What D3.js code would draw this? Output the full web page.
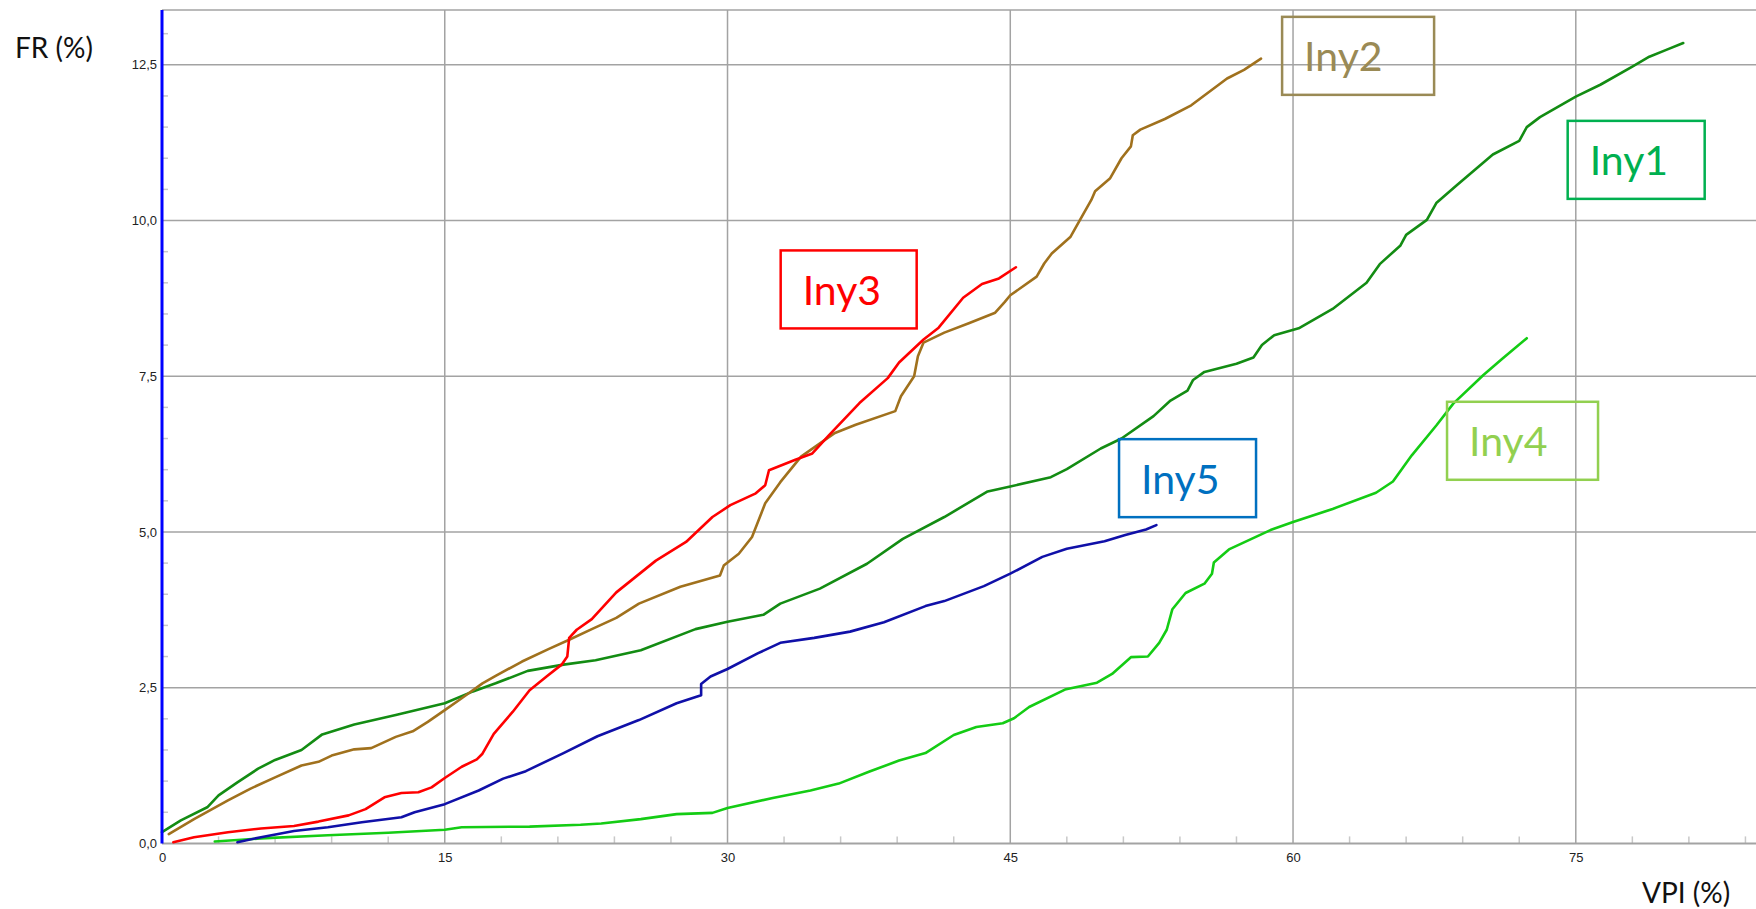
<!DOCTYPE html>
<html>
<head>
<meta charset="utf-8">
<script src="https://cdn.jsdelivr.net/npm/d3@7/dist/d3.min.js"></script>
<style>
  html, body { margin: 0; padding: 0; background: #ffffff; }
  svg { display: block; }
</style>
</head>
<body>
<svg id="chart" width="1756" height="909"></svg>
<script>
// ---------------- DATA ----------------
const seriesNames = ["Iny1", "Iny2", "Iny3", "Iny4", "Iny5"];

const iny1 = [[0,0.18],[1.0,0.37],[2.4,0.58],[3.0,0.77],[4.0,0.98],[5.1,1.2],[6.0,1.34],[7.4,1.5],[8.5,1.75],[10.2,1.91],[12.4,2.06],[15.0,2.25],[16.5,2.44],[17.7,2.57],[19.4,2.77],[21.3,2.87],[23.0,2.94],[25.4,3.1],[28.3,3.44],[30,3.56],[31.9,3.67],[32.8,3.85],[34.9,4.09],[37.4,4.49],[39.3,4.89],[41.5,5.24],[43.8,5.65],[45,5.73],[47.15,5.88],[48.0,6.01],[49.8,6.34],[50.9,6.5],[52.6,6.86],[53.5,7.11],[54.4,7.27],[54.7,7.44],[55.3,7.57],[57.0,7.7],[57.9,7.8],[58.35,8.0],[59.0,8.16],[60.3,8.27],[62.1,8.58],[63.9,9.0],[64.6,9.3],[65.7,9.6],[66.0,9.77],[67.1,10.01],[67.6,10.28],[68.7,10.57],[70.6,11.06],[72.0,11.28],[72.4,11.5],[73.1,11.66],[75.0,11.99],[76.3,12.18],[78.0,12.47],[78.9,12.63],[79.8,12.74],[80.7,12.85]];

const iny2 = [[0.36,0.15],[1.7,0.39],[3.5,0.69],[4.7,0.88],[6.0,1.06],[7.4,1.25],[8.3,1.31],[9.0,1.41],[10.2,1.51],[11.1,1.53],[12.4,1.71],[13.3,1.80],[14.1,1.95],[15.0,2.14],[15.9,2.33],[17.0,2.57],[17.7,2.69],[19.1,2.92],[20.5,3.12],[21.6,3.27],[22.8,3.44],[24.1,3.62],[25.3,3.85],[27.5,4.12],[29.6,4.30],[29.8,4.46],[30.6,4.65],[31.3,4.92],[32.0,5.46],[32.8,5.80],[33.9,6.21],[35.7,6.59],[36.8,6.72],[38.9,6.94],[39.2,7.18],[39.9,7.5],[40.1,7.82],[40.4,8.04],[41.5,8.2],[42.8,8.35],[44.2,8.52],[44.7,8.69],[45.0,8.80],[46.4,9.1],[46.8,9.31],[47.2,9.47],[48.2,9.74],[48.7,10.01],[49.3,10.33],[49.5,10.47],[50.3,10.68],[50.9,11.0],[51.4,11.19],[51.5,11.37],[51.9,11.46],[53.2,11.63],[54.6,11.85],[56.5,12.28],[57.4,12.42],[58.3,12.6]];

const iny3 = [[0.6,0.02],[1.7,0.10],[3.5,0.18],[5.25,0.24],[7.0,0.28],[8.3,0.35],[9.9,0.45],[10.8,0.55],[11.8,0.74],[12.7,0.81],[13.6,0.82],[14.3,0.9],[15.0,1.05],[15.9,1.23],[16.7,1.35],[17.0,1.44],[17.6,1.76],[18.6,2.11],[19.5,2.46],[20.4,2.68],[21.2,2.87],[21.5,3.0],[21.6,3.3],[22.0,3.43],[22.8,3.6],[24.1,4.03],[26.2,4.54],[27.8,4.84],[29.2,5.24],[30.15,5.43],[31.5,5.62],[32.0,5.75],[32.2,5.99],[33.6,6.16],[34.5,6.26],[35.4,6.56],[37.0,7.07],[38.5,7.47],[39.1,7.72],[40.4,8.09],[41.2,8.28],[42.5,8.76],[43.5,8.98],[44.4,9.07],[45.3,9.25]];

const iny4 = [[2.8,0.03],[5.25,0.08],[8.8,0.13],[12.0,0.17],[15.0,0.22],[15.9,0.26],[19.5,0.27],[22.2,0.30],[23.3,0.32],[25.4,0.39],[27.3,0.47],[29.2,0.49],[30,0.57],[32.4,0.73],[34.4,0.85],[35.9,0.96],[37.5,1.15],[39.1,1.33],[40.5,1.45],[42.0,1.74],[43.2,1.87],[44.6,1.93],[45.2,2.01],[46.0,2.19],[47.9,2.47],[49.6,2.58],[50.4,2.72],[51.4,2.99],[52.3,3.0],[52.9,3.22],[53.3,3.43],[53.6,3.76],[54.3,4.02],[55.3,4.17],[55.7,4.33],[55.8,4.51],[56.6,4.72],[58.8,5.03],[60.0,5.16],[62.1,5.37],[64.4,5.63],[65.3,5.81],[66.3,6.23],[67.6,6.71],[68.5,7.06],[70.1,7.52],[71.1,7.78],[72.4,8.11]];

const iny5 = [[4.0,0.02],[5.25,0.10],[7.0,0.20],[8.8,0.26],[10.6,0.34],[12.7,0.42],[13.4,0.5],[15.0,0.63],[16.8,0.85],[18.1,1.04],[19.3,1.16],[21.3,1.45],[23.1,1.72],[25.3,1.98],[27.3,2.25],[28.6,2.38],[28.6,2.56],[29.1,2.68],[30,2.80],[31.6,3.05],[32.8,3.22],[34.6,3.30],[36.5,3.40],[38.3,3.55],[40.5,3.81],[41.5,3.89],[43.6,4.13],[45.0,4.33],[46.7,4.6],[48.0,4.73],[50.0,4.85],[51.1,4.95],[52.2,5.04],[52.75,5.11]];

const xTickValues = [0, 15, 30, 45, 60, 75];
const yTickValues = [0, 2.5, 5, 7.5, 10, 12.5];
const xTitle = "VPI (%)";
const yTitle = "FR (%)";

// label box anchors (top-left corner, in data units)
const labelAnchorX = [74.57, 59.42, 32.82, 68.17, 50.77];
const labelAnchorY = [11.60, 13.27, 9.52, 7.09, 6.49];

// ---------------- STYLE / LAYOUT ----------------
const lineColors = ["#138c13", "#a0711d", "#ff0000", "#14cc14", "#1010a8"];
const boxColors = ["#00b050", "#9a8a55", "#ff0000", "#92d050", "#0070c0"];
const boxWidths = [137, 152, 136, 151, 137];
const boxHeight = 78;

const svg = d3.select("#chart");
const x = d3.scaleLinear().domain([0, 84.56]).range([162, 1756]);
const y = d3.scaleLinear().domain([0, 13.38]).range([843.4, 10]);

const gridColor = "#a3a3a3";
const minorColor = "#c8c8c8";

// horizontal gridlines + top border
const hLines = yTickValues.filter(v => v > 0).concat([13.38]);
svg.append("g").selectAll("line").data(hLines).join("line")
  .attr("x1", x(0)).attr("x2", x(84.56))
  .attr("y1", d => y(d)).attr("y2", d => y(d))
  .attr("stroke", gridColor).attr("stroke-width", 1.5);

// vertical gridlines
svg.append("g").selectAll("line").data(xTickValues.filter(v => v > 0)).join("line")
  .attr("x1", d => x(d)).attr("x2", d => x(d))
  .attr("y1", y(0)).attr("y2", y(13.38))
  .attr("stroke", gridColor).attr("stroke-width", 1.5);

// minor ticks x
const xMinor = d3.range(3, 85, 3).filter(v => v % 15 !== 0);
svg.append("g").selectAll("line").data(xMinor).join("line")
  .attr("x1", d => x(d)).attr("x2", d => x(d))
  .attr("y1", y(0)).attr("y2", y(0) - 7)
  .attr("stroke", minorColor).attr("stroke-width", 1.5);

// minor ticks y
const yMinor = d3.range(0.5, 13.4, 0.5).filter(v => Math.abs(v / 2.5 - Math.round(v / 2.5)) > 1e-6);
svg.append("g").selectAll("line").data(yMinor).join("line")
  .attr("x1", x(0)).attr("x2", x(0) + 6)
  .attr("y1", d => y(d)).attr("y2", d => y(d))
  .attr("stroke", minorColor).attr("stroke-width", 1.5);

// bottom axis line
svg.append("line")
  .attr("x1", x(0)).attr("x2", x(84.56))
  .attr("y1", y(0)).attr("y2", y(0))
  .attr("stroke", gridColor).attr("stroke-width", 2);

// series lines
const allSeries = [iny1, iny2, iny3, iny4, iny5];
const line = d3.line().x(d => x(d[0])).y(d => y(d[1]));
svg.append("g").selectAll("path").data(allSeries).join("path")
  .attr("d", d => line(d))
  .attr("fill", "none")
  .attr("stroke", (d, i) => lineColors[i])
  .attr("stroke-width", 2.6)
  .attr("stroke-linejoin", "round")
  .attr("stroke-linecap", "round");

// left axis (blue)
svg.append("line")
  .attr("x1", x(0)).attr("x2", x(0))
  .attr("y1", y(0)).attr("y2", y(13.38))
  .attr("stroke", "#0000ff").attr("stroke-width", 3);

// axes labels via d3 axes
const loc = d3.formatLocale({decimal: ",", thousands: ".", grouping: [3], currency: ["", ""]});
const fmtY = loc.format(".1f");

const xAxis = svg.append("g")
  .attr("transform", `translate(0,${y(0)})`)
  .call(d3.axisBottom(x).tickValues(xTickValues).tickSize(0).tickPadding(9).tickFormat(d3.format("d")));
xAxis.select(".domain").remove();
xAxis.selectAll("text").attr("font-family", "'Liberation Sans', Arial, sans-serif").attr("font-size", 13).attr("fill", "#222");

const yAxis = svg.append("g")
  .attr("transform", `translate(${x(0)},0)`)
  .call(d3.axisLeft(y).tickValues(yTickValues).tickSize(0).tickPadding(5).tickFormat(fmtY));
yAxis.select(".domain").remove();
yAxis.selectAll("text").attr("font-family", "'Liberation Sans', Arial, sans-serif").attr("font-size", 13).attr("fill", "#222");

// axis titles
svg.append("text").text(yTitle)
  .attr("x", 15).attr("y", 58)
  .attr("font-family", "Lato, 'Open Sans', sans-serif").attr("font-size", 28).attr("fill", "#111");
svg.append("text").text(xTitle)
  .attr("x", 1642).attr("y", 903)
  .attr("font-family", "Lato, 'Open Sans', sans-serif").attr("font-size", 28).attr("fill", "#111");

// label boxes
const boxes = svg.append("g").selectAll("g").data(seriesNames).join("g")
  .attr("transform", (d, i) => `translate(${x(labelAnchorX[i])},${y(labelAnchorY[i])})`);
boxes.append("rect")
  .attr("width", (d, i) => boxWidths[i]).attr("height", boxHeight)
  .attr("fill", "none")
  .attr("stroke", (d, i) => boxColors[i])
  .attr("stroke-width", 2.5);
boxes.append("text").text(d => d)
  .attr("x", 22).attr("y", 54.5)
  .attr("font-family", "Lato, 'Open Sans', sans-serif").attr("font-size", 41)
  .attr("fill", (d, i) => boxColors[i]);
</script>
</body>
</html>
